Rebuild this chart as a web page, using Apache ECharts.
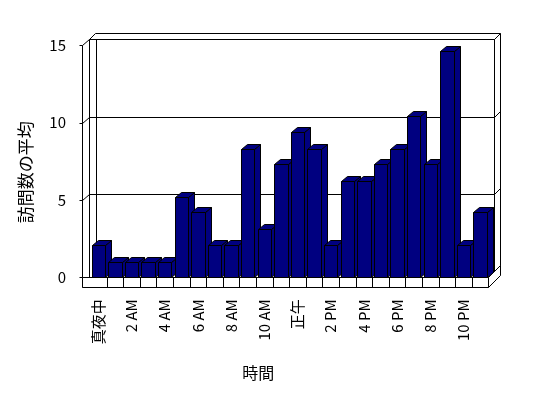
<!DOCTYPE html>
<html>
<head>
<meta charset="utf-8">
<script src="https://cdn.jsdelivr.net/npm/echarts@6/dist/echarts.min.js"></script>
<style>
html, body { margin: 0; padding: 0; background: #fff; }
#chart { width: 548px; height: 398px; }
</style>
</head>
<body>
<div id="chart"></div>
<script>
// 時間帯ごとの訪問数の平均
var hours = ["真夜中", "1 AM", "2 AM", "3 AM", "4 AM", "5 AM", "6 AM", "7 AM",
      "8 AM", "9 AM", "10 AM", "11 AM", "正午", "1 PM", "2 PM", "3 PM",
      "4 PM", "5 PM", "6 PM", "7 PM", "8 PM", "9 PM", "10 PM", "11 PM"];
var visits = [2.1, 1, 1, 1, 1, 5.2, 4.2, 2.1, 2.1, 8.3, 3.1, 7.3,
      9.4, 8.3, 2.1, 6.2, 6.2, 7.3, 8.3, 10.4, 7.3, 14.6, 2.1, 4.2];
var yTicks = [0, 5, 10, 15];

var FONT = '"Noto Sans CJK JP", "Noto Sans", sans-serif';
var NAVY = "#000080";
var DX = 6, DY = -6;   // 壁の奥行き
var BDX = 6, BDY = -5; // 棒の奥行き

function px(v) {
      return Math.round(v) + 0.5;
}
function seg(x1, y1, x2, y2) {
      return {
            type: "line",
            shape: { x1: px(x1), y1: px(y1), x2: px(x2), y2: px(y2) },
            style: { stroke: "#000", lineWidth: 1 },
      };
}

// 壁と床（グリッド線もここで描く）
function renderFrame(params, api) {
      var bw = api.size([1, 0])[0];
      var x0 = api.coord([0, 0])[0] - bw / 2;
      var x1 = api.coord([hours.length - 1, 0])[0] + bw / 2;
      var yb = api.coord([0, 0])[1];
      var yt = api.coord([0, yTicks[yTicks.length - 1]])[1];
      var xo = x0 - 8;
      var xi = x0 - 1;
      var fh = 10;
      var c = [];

      c.push({
            type: "rect",
            shape: { x: px(x0 + DX), y: px(yt + DY), width: Math.round(x1 - x0), height: Math.round(yb - yt) },
            style: { fill: "#fff", stroke: "#000", lineWidth: 1 },
      });
      // 上辺
      c.push(seg(xi + DX, yt + 2 * DY, x1 + 2 * DX, yt + 2 * DY));
      c.push(seg(xi, yt + DY, x1 + DX, yt + DY));
      c.push(seg(xo, yt, xi, yt + DY));
      c.push(seg(xi, yt + DY, xi + DX, yt + 2 * DY));
      c.push(seg(x1 + DX, yt + DY, x1 + 2 * DX, yt + 2 * DY));
      // 左の縦線
      c.push(seg(xo, yt, xo, yb + fh));
      c.push(seg(xi, yt + DY, xi, yb));
      c.push(seg(x0 + DX, yt + DY, x0 + DX, yb + DY));
      // 右の縦線
      c.push(seg(x1 + DX, yt + DY, x1 + DX, yb + DY));
      c.push(seg(x1 + 2 * DX, yt + 2 * DY, x1 + 2 * DX, yb + fh + 2 * DY));
      // グリッド線
      yTicks.forEach(function (v) {
            var y = api.coord([0, v])[1];
            c.push(seg(xo - 3, y, xo, y));
            if (v > 0 && v < yTicks[yTicks.length - 1]) {
                  c.push(seg(xo, y, xi, y + DY));
                  c.push(seg(xi, y + DY, x1 + DX, y + DY));
                  c.push(seg(x1 + DX, y + DY, x1 + 2 * DX, y + 2 * DY));
            }
      });
      // 床
      c.push({
            type: "polygon",
            shape: { points: [[px(x1), px(yb)], [px(x1 + 2 * DX), px(yb + 2 * DY)],
                  [px(x1 + 2 * DX), px(yb + fh + 2 * DY)], [px(x1), px(yb + fh)]] },
            style: { fill: "#fff", stroke: "#000", lineWidth: 1 },
      });
      c.push({
            type: "rect",
            shape: { x: px(xo), y: px(yb), width: Math.round(x1 - xo), height: fh },
            style: { fill: "#fff", stroke: "#000", lineWidth: 1 },
      });
      for (var k = 1; k < hours.length; k++) {
            c.push(seg(x0 + k * bw, yb, x0 + k * bw, yb + fh));
      }
      return { type: "group", children: c };
}

function renderBar(params, api) {
      var top = api.coord([api.value(0), api.value(1)]);
      var base = api.coord([api.value(0), 0]);
      var w = api.size([1, 0])[0] * 0.8;
      var l = px(top[0] - w / 2), r = px(top[0] + w / 2);
      var t = px(top[1]), b = px(base[1]);
      var st = { fill: NAVY, stroke: "#000", lineWidth: 1 };
      return {
            type: "group",
            children: [
                  { type: "polygon", shape: { points: [[r, t], [r + BDX, t + BDY], [r + BDX, b + BDY], [r, b]] }, style: st },
                  { type: "polygon", shape: { points: [[l, t], [l + BDX, t + BDY], [r + BDX, t + BDY], [r, t]] }, style: st },
                  { type: "rect", shape: { x: l, y: t, width: r - l, height: b - t }, style: st },
            ],
      };
}

var chart = echarts.init(document.getElementById("chart"));
chart.setOption({
      animation: false,
      backgroundColor: "#fff",
      textStyle: { fontFamily: FONT, color: "#000" },
      grid: { left: 90, right: 59.6, top: 45.3, bottom: 120.7 },
      xAxis: {
            type: "category",
            data: hours,
            name: "時間",
            nameLocation: "middle",
            nameGap: 88,
            nameTextStyle: { fontSize: 16, color: "#000", fontFamily: FONT, padding: [0, 62, 0, 0] },
            axisLine: { show: false },
            axisTick: { show: false },
            axisLabel: { interval: 1, rotate: 90, margin: 22, fontSize: 15, color: "#000", fontFamily: FONT },
      },
      yAxis: {
            type: "value",
            min: 0,
            max: 15,
            interval: 5,
            name: "訪問数の平均",
            nameLocation: "middle",
            nameGap: 56,
            nameTextStyle: { fontSize: 17, color: "#000", fontFamily: FONT, padding: [0, 22, 0, 0] },
            axisLine: { show: false },
            axisTick: { show: false },
            splitLine: { show: false },
            axisLabel: { margin: 24, fontSize: 15, color: "#000", fontFamily: FONT },
      },
      series: [
            {
                  type: "custom",
                  z: 1,
                  silent: true,
                  data: [[0, 0]],
                  renderItem: renderFrame,
            },
            {
                  type: "custom",
                  z: 2,
                  data: visits.map(function (v, i) {
                        return [i, v];
                  }),
                  encode: { x: 0, y: 1 },
                  renderItem: renderBar,
            },
      ],
});
</script>
</body>
</html>
